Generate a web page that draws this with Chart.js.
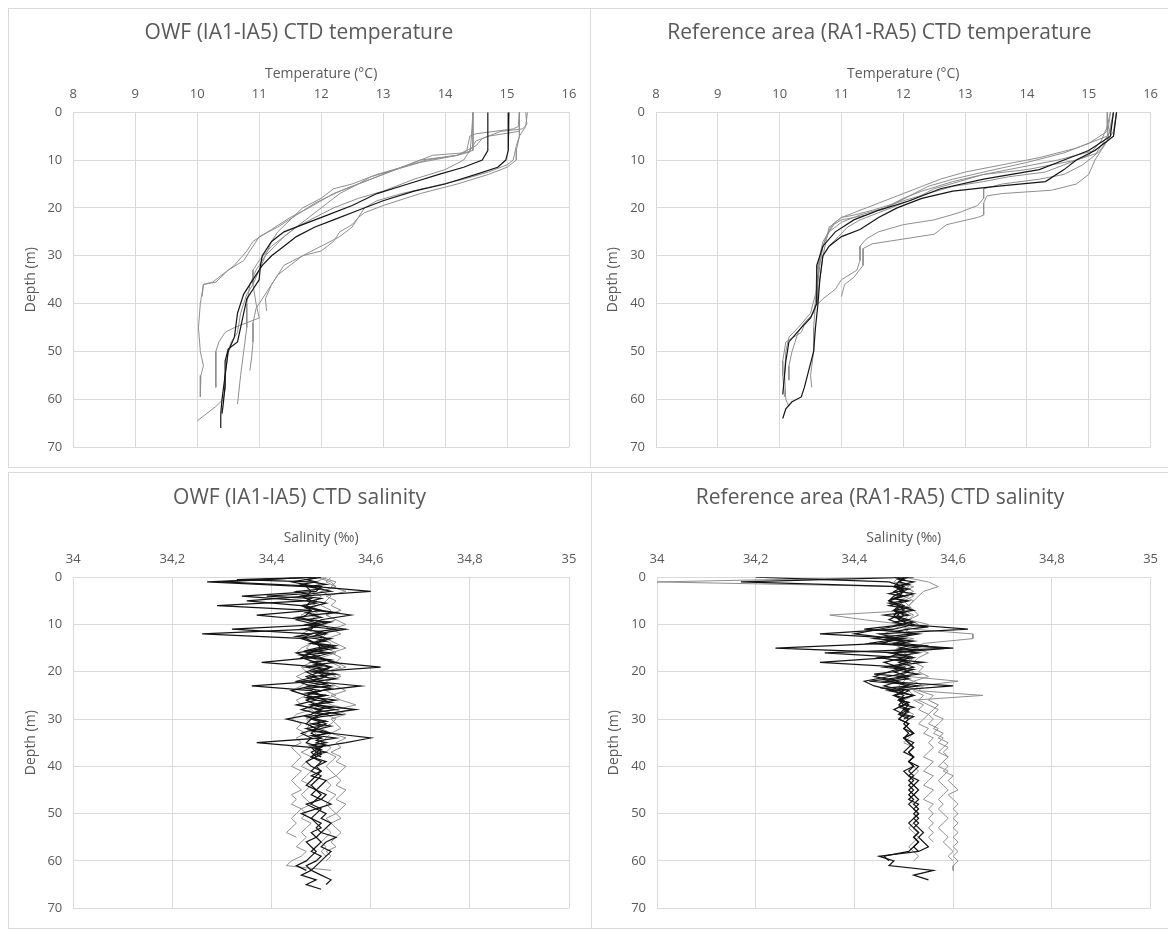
<!DOCTYPE html>
<html>
<head>
<meta charset="utf-8">
<script src="https://cdn.jsdelivr.net/npm/chart.js@4.4.1/dist/chart.umd.min.js"></script>
<style>
  body { margin: 0; background: #fff; width: 1168px; height: 929px; overflow: hidden; position: relative; }
  .panel { position: absolute; border: 1px solid #d9d9d9; box-sizing: border-box; }
  canvas { position: absolute; }
</style>
</head>
<body>
<div class="panel" style="left:8px;top:8px;width:583px;height:460px"></div>
<div class="panel" style="left:590px;top:8px;width:580px;height:460px"></div>
<div class="panel" style="left:8px;top:472px;width:584px;height:457px"></div>
<div class="panel" style="left:591px;top:472px;width:578px;height:457px"></div>
<canvas id="owfTempChart" width="580" height="457" style="left:9px;top:9px"></canvas>
<canvas id="refTempChart" width="577" height="457" style="left:591px;top:9px"></canvas>
<canvas id="owfSalChart" width="581" height="454" style="left:9px;top:473px"></canvas>
<canvas id="refSalChart" width="576" height="454" style="left:592px;top:473px"></canvas>
<script>
// ---- temperature profiles, [temperature °C, depth m] ----
const owfTemp1 = [[14.45,0],[14.45,8],[14.3,8.5],[13.8,9],[13.4,11],[13.0,13],[12.6,15],[12.2,17],[11.8,20],[11.5,22],[11.2,24.5],[10.9,27],[10.8,29],[10.6,32],[10.4,34],[10.25,35.5],[10.1,36],[10.05,40],[10.02,45],[10.05,50],[10.1,53],[10.06,55],[10.05,59.5]];
const owfTemp2 = [[14.45,0],[14.42,6],[14.4,8.3],[14.2,9],[13.6,10],[13.2,12],[12.8,14],[12.3,16.5],[11.9,19],[11.6,21.5],[11.3,24],[11.0,26],[10.85,29],[10.75,31],[10.5,33],[10.3,35.5],[10.1,36],[10.08,38.5]];
const owfTemp3 = [[14.69,0],[14.69,8],[14.6,10],[14.3,11.5],[13.9,13],[13.4,15],[12.9,17],[12.5,19.5],[12.1,21.5],[11.7,23.5],[11.4,25],[11.2,27],[11.05,30],[11.02,32],[11.0,35],[10.9,37],[10.8,39],[10.75,42],[10.7,45],[10.65,48],[10.5,49.5],[10.45,52],[10.45,57],[10.42,61],[10.4,63]];
const owfTemp4 = [[15.03,0],[15.02,8],[14.98,10],[14.85,11.5],[14.5,13],[14.0,15],[13.5,16.5],[13.0,18.5],[12.6,20.5],[12.2,22.5],[11.9,24],[11.6,26],[11.4,28],[11.2,30],[11.05,32],[10.9,35],[10.75,38],[10.65,42],[10.6,47],[10.5,50],[10.45,55],[10.4,60],[10.38,63],[10.38,66]];
const owfTemp5 = [[15.2,0],[15.18,3],[15.1,3.5],[14.5,4.5],[14.4,5],[14.35,8],[14.2,9],[13.7,10],[13.3,11.5],[12.9,13],[12.5,15],[12.2,16],[12.0,18],[11.7,20],[11.5,22.5],[11.3,25],[11.2,27],[11.1,30],[10.95,33],[10.85,36],[10.8,40],[10.8,45],[10.75,50],[10.7,55],[10.65,61]];
const owfTemp6 = [[15.3,0],[15.32,2.5],[15.25,3.5],[14.9,4],[14.6,5.5],[14.5,7],[14.2,9],[13.6,10.5],[13.2,12],[12.8,13.5],[12.6,15],[12.3,17],[12.1,19],[11.8,22],[11.6,24],[11.4,26],[11.2,28],[11.0,31],[10.9,33],[10.9,36],[10.95,40],[11.0,43],[10.6,45],[10.45,46],[10.35,48],[10.3,50],[10.3,57.5]];
const owfTemp7 = [[15.2,0],[15.2,5],[15.15,8],[15.15,10],[15.0,11.5],[14.7,13],[14.2,15],[13.6,17],[13.0,19.5],[12.7,21],[12.6,22],[12.5,23.5],[12.3,25],[12.2,27],[12.0,29],[11.7,30],[11.4,32],[11.3,34],[11.2,36],[11.1,39],[11.12,41.5]];
const owfTemp8 = [[15.33,0],[15.3,3],[15.2,5],[15.15,7],[15.1,10],[15.0,11],[14.7,12.5],[14.3,14],[13.8,15.5],[13.3,17],[12.9,18.5],[12.7,20],[12.6,22],[12.5,24],[12.3,26],[12.0,28],[11.7,30],[11.5,32],[11.3,34],[11.2,36],[11.1,38],[10.95,41],[10.9,44],[10.9,48],[10.88,51],[10.85,54]];
const owfTemp9 = [[15.2,0],[15.2,4],[14.7,5],[14.5,6],[14.3,10],[14.0,12],[13.5,14],[13.0,16.5],[12.6,18],[12.2,20],[11.9,22],[11.6,24],[11.4,26],[11.25,28],[11.1,30],[11.0,33],[10.9,36],[10.8,38],[10.7,42],[10.65,46],[10.55,48],[10.5,50],[10.45,55],[10.45,58],[10.42,60],[10.3,61.5],[10.1,63.5],[10.0,64.5]];

const refTemp1 = [[15.45,0],[15.4,4],[15.25,7],[15.1,10],[15.0,13],[14.8,15],[14.4,16.3],[13.6,17],[13.35,17.5],[13.3,19],[13.3,21.5],[13.2,22],[12.7,23.5],[12.6,24.5],[12.5,25.5],[12.0,26.5],[11.5,27.5],[11.35,28.5],[11.35,32],[11.2,34.5],[11.05,36],[11.0,38.5]];
const refTemp2 = [[15.4,0],[15.35,4],[15.2,7],[15.1,9],[14.9,11],[14.6,13],[14.2,14],[13.6,15],[13.3,16],[13.3,18],[13.2,19.5],[12.9,21],[12.5,22.5],[12.0,23.5],[11.6,25],[11.4,26.5],[11.3,28],[11.3,31],[11.25,33],[11.0,35],[10.9,37],[10.7,39],[10.62,40]];
const refTemp3 = [[15.45,0],[15.4,5],[15.1,8],[14.8,10],[14.6,12],[14.3,14.5],[13.5,15.5],[12.8,16.5],[12.3,18],[11.9,20],[11.6,22],[11.3,24.5],[11.0,26],[10.8,28],[10.7,30],[10.65,35],[10.62,40],[10.58,45],[10.55,50],[10.45,55],[10.4,57.5],[10.35,59.5],[10.2,60.5],[10.1,62],[10.05,64]];
const refTemp4 = [[15.4,0],[15.35,5],[15.0,8],[14.6,10],[14.2,12],[13.3,14],[12.6,16],[12.1,18.5],[11.6,20.5],[11.2,22.5],[10.9,25],[10.7,28],[10.6,32],[10.6,40],[10.5,43],[10.35,45],[10.15,48],[10.1,52],[10.05,59]];
const refTemp5 = [[15.35,0],[15.3,5],[14.8,7.5],[14.2,9.5],[13.6,11],[13.0,12.5],[12.6,14],[12.3,15.5],[12.0,17],[11.6,19],[11.3,20.5],[11.0,22],[10.85,23.5],[10.75,26],[10.7,28],[10.65,32],[10.6,38],[10.55,42],[10.4,44],[10.3,46],[10.2,50],[10.15,53],[10.15,56]];
const refTemp6 = [[15.3,0],[15.3,4],[15.0,6.5],[14.6,8.5],[14.0,10.5],[13.3,12.5],[12.8,14],[12.4,15.5],[12.1,17.5],[11.8,19.5],[11.4,21.5],[11.0,22.5],[10.8,24],[10.75,27],[10.7,30],[10.65,35],[10.6,40],[10.5,43],[10.4,44.5],[10.35,46],[10.1,48],[10.05,52],[10.05,55],[10.08,59.5]];
const refTemp7 = [[15.45,0],[15.4,5],[15.1,8],[14.5,10],[13.9,11.5],[13.3,13],[12.8,14.5],[12.3,16.5],[12.0,18],[11.7,20],[11.3,21.5],[11.0,23],[10.8,25],[10.7,28],[10.6,33],[10.58,40],[10.55,45],[10.55,50],[10.5,55],[10.52,57.5]];
const refTemp8 = [[15.4,0],[15.3,6],[15.15,8.5],[14.8,10],[14.4,11],[14.0,12],[13.3,13],[12.9,14.5],[12.5,16],[12.2,18],[11.9,19.5],[11.6,21],[11.3,22.5],[11.1,24],[10.95,26],[10.8,28],[10.65,31],[10.6,37],[10.5,42],[10.3,45],[10.15,47],[10.1,50],[10.08,55],[10.1,60],[10.15,61.5]];
const refTemp9 = [[15.35,0],[15.3,3],[15.2,6],[15.0,9],[14.6,11],[14.3,12.5],[13.7,13.5],[13.3,14.5],[12.8,15.5],[12.4,17],[12.0,18.5],[11.5,20.5],[11.2,21.5],[11.0,22],[10.9,23],[10.8,25],[10.7,27],[10.65,30],[10.6,36],[10.6,40]];

// ---- salinity profiles, one value per metre of depth ----
const owfSalDepth = [0,1,2,3,4,5,6,7,8,9,10,11,12,13,14,15,16,17,18,19,20,21,22,23,24,25,26,27,28,29,30,31,32,33,34,35,36,37,38,39,40,41,42,43,44,45,46,47,48,49,50,51,52,53,54,55,56,57,58,59,60,61,62,63,64,65,66];
const owfSal1 = [34.49,34.27,34.47,34.48,34.47,34.35,34.46,34.48,34.47,34.45,
  34.49,34.48,34.26,34.47,34.49,34.50,34.48,34.46,34.49,34.52,
  34.50,34.47,34.49,34.36,34.48,34.50,34.47,34.49,34.46,34.50,
  34.48,34.47,34.49,34.48,34.50,34.37,34.48,34.49,34.48,34.50,
  34.49,34.48,34.50,34.49,34.48,34.49,34.50,34.49,34.48,34.50,
  34.49,34.48,34.50,34.49,34.50,34.49,34.50,34.49,34.48,34.50,
  34.49,34.47,34.48,34.46,34.49,34.47,34.50];
const owfSal2 = [34.48,34.30,34.50,34.49,34.34,34.47,34.29,34.48,34.37,34.47,
  34.50,34.32,34.48,34.46,34.49,34.51,34.45,34.48,34.38,34.50,
  34.47,34.49,34.45,34.48,34.44,34.47,34.49,34.45,34.50,34.48,
  34.43,34.47,34.49,34.46,34.48,34.47,34.50,34.48,34.49,34.47,
  34.48,34.50,34.49,34.48,34.47,34.49,34.48,34.50,34.47,34.49,
  34.46,34.48,34.49,34.50,34.48,34.49,34.47,34.48,34.49,34.48,
  34.47,34.45,34.47];
const owfSal3 = [34.50,34.44,34.49,34.60,34.46,34.48,34.47,34.49,34.56,34.50,
  34.48,34.55,34.49,34.51,34.48,34.53,34.47,34.50,34.52,34.62,
  34.49,34.51,34.48,34.58,34.50,34.47,34.51,34.49,34.57,34.50,
  34.48,34.51,34.49,34.52,34.60,34.55,34.49,34.50,34.48,34.51,
  34.49,34.50,34.48,34.51,34.50,34.49,34.51,34.50,34.52,34.49,
  34.51,34.50,34.52,34.51,34.50,34.53,34.51,34.50,34.52,34.51,
  34.50,34.49,34.48,34.50,34.52,34.51];
const owfSal4 = [34.49,34.52,34.53,34.50,34.48,34.47,34.49,34.48,34.46,34.47,
  34.49,34.48,34.46,34.47,34.48,34.46,34.45,34.47,34.48,34.46,
  34.47,34.45,34.47,34.46,34.44,34.47,34.45,34.46,34.48,34.45,
  34.44,34.46,34.45,34.47,34.45,34.46,34.44,34.45,34.46,34.45,
  34.44,34.46,34.45,34.44,34.45,34.46,34.44,34.45,34.44,34.46,
  34.45,34.44,34.45,34.44,34.43,34.45];
const owfSal5 = [34.50,34.53,34.52,34.55,34.51,34.53,34.52,34.54,34.51,34.53,
  34.55,34.52,34.54,34.51,34.53,34.55,34.52,34.54,34.53,34.55,
  34.52,34.54,34.51,34.53,34.55,34.52,34.54,34.57,34.53,34.55,
  34.52,34.53,34.54,34.52,34.55,34.53,34.54,34.52,34.54,34.53,
  34.55,34.54,34.53,34.54,34.53,34.55,34.54,34.53,34.55,34.54,
  34.53,34.54,34.52,34.53,34.54,34.53,34.52,34.53,34.51,34.52,
  34.51];
const owfSal6 = [34.51,34.49,34.50,34.48,34.50,34.49,34.47,34.50,34.48,34.49,
  34.51,34.47,34.49,34.50,34.48,34.47,34.49,34.48,34.50,34.47,
  34.49,34.48,34.50,34.47,34.49,34.48,34.47,34.50,34.48,34.49,
  34.47,34.48,34.47,34.49,34.48,34.47,34.48,34.46,34.48,34.47,
  34.46,34.48,34.47,34.46,34.48,34.47,34.46,34.47,34.48,34.46,
  34.47,34.46,34.48,34.47,34.46,34.47,34.46,34.45,34.47,34.46,
  34.44,34.43,34.52];
const owfSal7 = [34.52,34.51,34.53,34.50,34.52,34.51,34.50,34.52,34.51,34.53,
  34.50,34.52,34.51,34.50,34.52,34.51,34.53,34.50,34.52,34.54,
  34.51,34.53,34.50,34.52,34.51,34.53,34.50,34.52,34.56,34.51,
  34.53,34.52,34.50,34.52,34.51,34.50,34.52,34.51,34.53,34.52,
  34.51,34.52,34.53,34.51,34.52,34.51,34.53,34.52,34.51,34.52,
  34.53,34.51,34.52,34.51,34.52,34.51,34.50,34.51,34.50,34.51];
// two casts logged every half metre over the upper 38 m
const owfSalFineDepth = [0,0.5,1,1.5,2,2.5,3,3.5,4,4.5,5,5.5,6,6.5,7,7.5,8,8.5,9,9.5,10,10.5,11,11.5,12,12.5,13,13.5,14,14.5,15,15.5,16,16.5,17,17.5,18,18.5,19,19.5,20,20.5,21,21.5,22,22.5,23,23.5,24,24.5,25,25.5,26,26.5,27,27.5,28,28.5,29,29.5,30,30.5,31,31.5,32,32.5,33,33.5,34,34.5,35,35.5,36,36.5,37,37.5,38];
const owfSal8 = [34.50,34.47,34.49,34.46,34.48,34.50,34.45,34.47,34.39,34.48,
  34.47,34.49,34.46,34.48,34.50,34.47,34.49,34.45,34.48,34.51,
  34.47,34.49,34.46,34.50,34.48,34.45,34.49,34.51,34.48,34.52,
  34.49,34.47,34.51,34.46,34.49,34.52,34.48,34.50,34.47,34.51,
  34.49,34.53,34.48,34.50,34.46,34.49,34.52,34.47,34.50,34.48,
  34.51,34.47,34.49,34.52,34.48,34.50,34.53,34.49,34.51,34.47,
  34.49,34.51,34.48,34.50,34.47,34.49,34.52,34.48,34.50,34.49,
  34.51,34.48,34.50,34.49,34.51,34.49,34.50];
const owfSal9 = [34.49,34.33,34.48,34.51,34.47,34.50,34.52,34.48,34.46,34.50,
  34.48,34.51,34.49,34.47,34.50,34.53,34.48,34.50,34.47,34.52,
  34.50,34.48,34.53,34.49,34.51,34.48,34.52,34.50,34.49,34.53,
  34.51,34.48,34.52,34.50,34.47,34.51,34.53,34.49,34.52,34.50,
  34.48,34.52,34.50,34.53,34.49,34.51,34.48,34.52,34.50,34.47,
  34.51,34.49,34.53,34.50,34.48,34.52,34.49,34.51,34.54,34.50,
  34.48,34.51,34.49,34.52,34.50,34.48,34.51,34.49,34.53,34.50,
  34.49,34.51,34.48,34.50,34.49,34.50,34.49];

const refSalDepth = [0,1,2,3,4,5,6,7,8,9,10,11,12,13,14,15,16,17,18,19,20,21,22,23,24,25,26,27,28,29,30,31,32,33,34,35,36,37,38,39,40,41,42,43,44,45,46,47,48,49,50,51,52,53,54,55,56,57,58,59,60,61,62,63,64];
const refSal1 = [34.52,34.17,34.49,34.50,34.48,34.47,34.50,34.48,34.49,34.47,
  34.50,34.45,34.40,34.48,34.46,34.24,34.49,34.47,34.33,34.50,
  34.47,34.44,34.49,34.46,34.50,34.48,34.50,34.49,34.51,34.50,
  34.49,34.51,34.50,34.52,34.50,34.51,34.52,34.51,34.52,34.51,
  34.53,34.52,34.51,34.53,34.52,34.51,34.52,34.53,34.52,34.53,
  34.52,34.53,34.52,34.53,34.54,34.53,34.54,34.55,34.53,34.45,
  34.48,34.47,34.56,34.52,34.55];
const refSal2 = [34.20,34.47,34.50,34.48,34.50,34.47,34.49,34.48,34.50,34.49,
  34.52,34.48,34.33,34.50,34.45,34.60,34.34,34.50,34.46,34.49,
  34.51,34.47,34.42,34.44,34.48,34.50,34.49,34.50,34.48,34.50,
  34.49,34.51,34.50,34.51,34.50,34.52,34.51,34.50,34.52,34.51,
  34.52,34.50,34.51,34.52,34.51,34.52,34.51,34.52,34.51,34.52,
  34.53,34.52,34.51,34.52,34.53,34.52,34.53,34.52,34.51,34.46,
  34.47];
const refSal3 = [34.50,34.49,34.48,34.50,34.49,34.47,34.49,34.50,34.48,34.49,
  34.51,34.63,34.45,34.49,34.43,34.59,34.48,34.51,34.49,34.52,
  34.48,34.51,34.46,34.60,34.47,34.52,34.49,34.51,34.50,34.49,
  34.51,34.50,34.51,34.52,34.50,34.51,34.52,34.51,34.52,34.51,
  34.52,34.51,34.52,34.51,34.52,34.53,34.52,34.51,34.53,34.52,
  34.53,34.52,34.53,34.52,34.53,34.52,34.53,34.52,34.53];
const refSal4 = [34.50,34.55,34.57,34.54,34.53,34.52,34.51,34.52,34.53,34.51,
  34.55,34.52,34.64,34.64,34.54,34.52,34.55,34.53,34.52,34.54,
  34.53,34.55,34.52,34.54,34.53,34.56,34.55,34.57,34.56,34.55,
  34.56,34.55,34.57,34.56,34.58,34.57,34.59,34.58,34.59,34.58,
  34.59,34.58,34.60,34.59,34.60,34.61,34.59,34.60,34.61,34.60,
  34.61,34.60,34.61,34.60,34.61,34.60,34.61,34.60,34.61,34.60,
  34.61,34.60,34.60];
const refSal5 = [34.49,34.48,34.52,34.50,34.51,34.49,34.50,34.52,34.35,34.42,
  34.50,34.48,34.46,34.52,34.47,34.50,34.49,34.52,34.50,34.48,
  34.51,34.49,34.52,34.50,34.53,34.66,34.52,34.54,34.53,34.55,
  34.54,34.53,34.55,34.54,34.56,34.55,34.56,34.55,34.54,34.56,
  34.55,34.54,34.56,34.55,34.54,34.56,34.55,34.54,34.56,34.55,
  34.56,34.55,34.56,34.55,34.56,34.55,34.56];
const refSal6 = [34.48,34.00,34.50,34.52,34.50,34.52,34.51,34.50,34.52,34.51,
  34.53,34.50,34.52,34.49,34.51,34.53,34.50,34.52,34.51,34.50,
  34.52,34.51,34.61,34.53,34.52,34.54,34.53,34.55,34.57,34.56,
  34.58,34.57,34.56,34.58,34.57,34.59,34.58,34.57,34.59,34.58,
  34.57,34.59,34.58,34.57,34.58,34.59,34.58,34.57,34.58,34.57,
  34.58,34.59,34.58,34.57,34.58,34.59,34.58,34.59,34.60,34.59,
  34.60];
const refSal7 = [34.51,34.49,34.51,34.50,34.52,34.50,34.51,34.49,34.51,34.50,
  34.49,34.51,34.50,34.48,34.51,34.50,34.52,34.49,34.51,34.50,
  34.48,34.51,34.50,34.49,34.51,34.52,34.50,34.51,34.50,34.52,
  34.51,34.50,34.51,34.52,34.51,34.50,34.52,34.51,34.52,34.51,
  34.52,34.53,34.52,34.51,34.52,34.53,34.52,34.51,34.52,34.53,
  34.52,34.53,34.52,34.51,34.52,34.53,34.52,34.51,34.52,34.53,
  34.52];
// two casts logged every half metre over the upper 30 m
const refSalFineDepth = [0,0.5,1,1.5,2,2.5,3,3.5,4,4.5,5,5.5,6,6.5,7,7.5,8,8.5,9,9.5,10,10.5,11,11.5,12,12.5,13,13.5,14,14.5,15,15.5,16,16.5,17,17.5,18,18.5,19,19.5,20,20.5,21,21.5,22,22.5,23,23.5,24,24.5,25,25.5,26,26.5,27,27.5,28,28.5,29,29.5,30];
const refSal8 = [34.48,34.50,34.49,34.51,34.48,34.50,34.49,34.47,34.50,34.48,
  34.50,34.47,34.49,34.51,34.48,34.50,34.46,34.49,34.51,34.48,
  34.50,34.46,34.42,34.49,34.52,34.47,34.44,34.50,34.48,34.51,
  34.49,34.52,34.47,34.50,34.45,34.48,34.51,34.49,34.46,34.50,
  34.48,34.44,34.50,34.47,34.43,34.49,34.51,34.46,34.49,34.50,
  34.48,34.50,34.49,34.51,34.50,34.49,34.51,34.50,34.49,34.51,
  34.50];
const refSal9 = [34.51,34.49,34.52,34.50,34.48,34.51,34.49,34.52,34.50,34.48,
  34.51,34.49,34.47,34.50,34.52,34.49,34.51,34.48,34.50,34.52,
  34.49,34.55,34.51,34.48,34.53,34.50,34.47,34.52,34.49,34.55,
  34.51,34.48,34.53,34.50,34.52,34.49,34.54,34.50,34.48,34.52,
  34.50,34.53,34.49,34.51,34.47,34.50,34.53,34.49,34.51,34.50,
  34.52,34.50,34.49,34.51,34.50,34.52,34.50,34.51,34.50,34.52,
  34.51];

const depthTicks = [0, 10, 20, 30, 40, 50, 60, 70];

// ---- styling ----
Chart.defaults.font.family = "'Open Sans', sans-serif";
Chart.defaults.color = '#595959';
const GRID = '#d9d9d9';
const DARK = '#141414';
const GREY = '#8e8e8e';

function profileLine(points, dark) {
  return {
    data: points,
    showLine: true,
    pointRadius: 0,
    borderColor: dark ? DARK : GREY,
    borderWidth: dark ? 1.2 : 1,
    order: dark ? 0 : 1
  };
}
const tempLine = (pairs, dark) => profileLine(pairs.map(p => ({ x: p[0], y: p[1] })), dark);
const salLine = (vals, depths, dark) => profileLine(vals.map((v, i) => ({ x: v, y: depths[i] })), dark);

const commaFmt = v => {
  const r = Math.round(v * 10) / 10;
  return Number.isInteger(r) ? String(r) : r.toFixed(1).replace('.', ',');
};

function makeChart(id, c) {
  new Chart(document.getElementById(id), {
    type: 'scatter',
    data: { datasets: c.datasets },
    options: {
      responsive: false,
      animation: false,
      events: [],
      layout: { padding: { left: 0, top: 0, right: 0, bottom: c.padBottom } },
      plugins: {
        legend: { display: false },
        tooltip: { enabled: false },
        title: {
          display: true, text: c.title, color: '#595959',
          font: { size: 21, weight: 'normal' },
          padding: c.titlePad
        }
      },
      scales: {
        x: {
          type: 'linear', position: 'top', min: c.xMin, max: c.xMax,
          ticks: { stepSize: c.xStep, padding: 10, font: { size: 13 }, maxRotation: 0, autoSkip: false, callback: c.fmt },
          grid: { color: GRID, drawTicks: false },
          border: { color: GRID },
          title: { display: true, text: c.xTitle, font: { size: 14 }, padding: { top: 8, bottom: 0 } },
          afterFit: s => { s.height = c.topH; }
        },
        y: {
          type: 'linear', reverse: true, min: 0, max: 70,
          afterBuildTicks: s => { s.ticks = depthTicks.map(v => ({ value: v })); },
          ticks: { padding: 11, font: { size: 13 } },
          grid: { color: GRID, drawTicks: false },
          border: { color: GRID },
          title: { display: true, text: 'Depth (m)', font: { size: 14 }, padding: { top: 14, bottom: 0 } },
          afterFit: s => { s.width = c.leftW; }
        },
        spacer: {
          position: 'right', display: true,
          ticks: { display: false }, grid: { display: false }, border: { display: false },
          afterFit: s => { s.width = c.padRight; }
        }
      }
    }
  });
}

makeChart('owfTempChart', {
  title: 'OWF (IA1-IA5) CTD temperature', xTitle: 'Temperature (°C)',
  xMin: 8, xMax: 16, xStep: 1,
  leftW: 64.3, topH: 55, padRight: 20, padBottom: 13.7, titlePad: { top: 11, bottom: 12 },
  datasets: [
    tempLine(owfTemp3, true), tempLine(owfTemp4, true),
    tempLine(owfTemp1, false), tempLine(owfTemp2, false), tempLine(owfTemp5, false),
    tempLine(owfTemp6, false), tempLine(owfTemp7, false), tempLine(owfTemp8, false), tempLine(owfTemp9, false)
  ]
});

makeChart('refTempChart', {
  title: 'Reference area (RA1-RA5) CTD temperature', xTitle: 'Temperature (°C)',
  xMin: 8, xMax: 16, xStep: 1,
  leftW: 65, topH: 55, padRight: 16, padBottom: 14, titlePad: { top: 11, bottom: 12 },
  datasets: [
    tempLine(refTemp3, true), tempLine(refTemp4, true),
    tempLine(refTemp1, false), tempLine(refTemp2, false), tempLine(refTemp5, false),
    tempLine(refTemp6, false), tempLine(refTemp7, false), tempLine(refTemp8, false), tempLine(refTemp9, false)
  ]
});

makeChart('owfSalChart', {
  title: 'OWF (IA1-IA5) CTD salinity', xTitle: 'Salinity (‰)',
  xMin: 34, xMax: 35, xStep: 0.2, fmt: commaFmt,
  leftW: 64.3, topH: 56, padRight: 21, padBottom: 10, titlePad: { top: 12, bottom: 11 },
  datasets: [
    salLine(owfSal1, owfSalDepth, true), salLine(owfSal2, owfSalDepth, true), salLine(owfSal3, owfSalDepth, true),
    salLine(owfSal8, owfSalFineDepth, true), salLine(owfSal9, owfSalFineDepth, true),
    salLine(owfSal4, owfSalDepth, false), salLine(owfSal5, owfSalDepth, false),
    salLine(owfSal6, owfSalDepth, false), salLine(owfSal7, owfSalDepth, false)
  ]
});

makeChart('refSalChart', {
  title: 'Reference area (RA1-RA5) CTD salinity', xTitle: 'Salinity (‰)',
  xMin: 34, xMax: 35, xStep: 0.2, fmt: commaFmt,
  leftW: 65, topH: 56, padRight: 14, padBottom: 10, titlePad: { top: 12, bottom: 11 },
  datasets: [
    salLine(refSal1, refSalDepth, true), salLine(refSal2, refSalDepth, true), salLine(refSal3, refSalDepth, true),
    salLine(refSal8, refSalFineDepth, true), salLine(refSal9, refSalFineDepth, true),
    salLine(refSal4, refSalDepth, false), salLine(refSal5, refSalDepth, false),
    salLine(refSal6, refSalDepth, false), salLine(refSal7, refSalDepth, false)
  ]
});
</script>
</body>
</html>
